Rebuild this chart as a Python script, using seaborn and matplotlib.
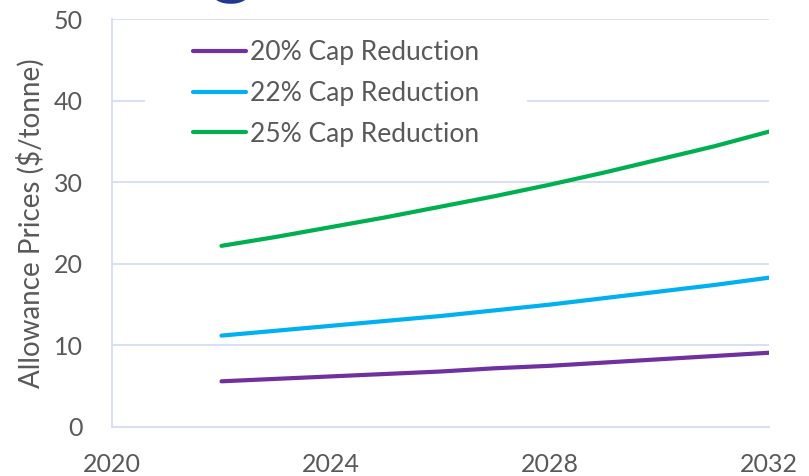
import matplotlib
matplotlib.use("Agg")
import matplotlib.pyplot as plt
import matplotlib.patches as mpatches
import seaborn as sns
import pandas as pd

years = [2022, 2023, 2024, 2025, 2026, 2027, 2028, 2029, 2030, 2031, 2032]
cap20 = [5.6, 5.9, 6.2, 6.5, 6.8, 7.2, 7.5, 7.9, 8.3, 8.7, 9.1]
cap22 = [11.2, 11.8, 12.4, 13.0, 13.6, 14.3, 15.0, 15.8, 16.6, 17.4, 18.3]
cap25 = [22.2, 23.3, 24.5, 25.7, 27.0, 28.3, 29.7, 31.2, 32.8, 34.4, 36.2]
series_names = ["20% Cap Reduction", "22% Cap Reduction", "25% Cap Reduction"]
colors = ["#7030A0", "#00B0F0", "#00B050"]
x_ticks = [2020, 2024, 2028, 2032]
y_ticks = [0, 10, 20, 30, 40, 50]
y_label = "Allowance Prices ($/tonne)"

df = pd.DataFrame({
    "Year": years * 3,
    "Price": cap20 + cap22 + cap25,
    "Scenario": [series_names[0]] * len(years) + [series_names[1]] * len(years) + [series_names[2]] * len(years),
})

sns.set_style("white")
plt.rcParams["font.family"] = ["Lato", "DejaVu Sans"]

grid_c = "#D6DCF4"
text_c = "#595959"

fig = plt.figure(figsize=(8.09, 4.76), dpi=100)
ax = fig.add_axes([112 / 809, 49 / 476, 657 / 809, 408 / 476])

sns.lineplot(data=df, x="Year", y="Price", hue="Scenario", palette=colors,
             hue_order=series_names, linewidth=3.0, ax=ax, legend=True)
for ln in ax.lines:
    ln.set_solid_capstyle("round")

ax.set_xlim(2020, 2032)
ax.set_ylim(0, 50)
ax.set_xticks(x_ticks)
ax.set_yticks(y_ticks)
ax.set_xticklabels([str(t) for t in x_ticks])
ax.set_yticklabels([str(t) for t in y_ticks])
ax.grid(axis="y", color=grid_c, linewidth=1.3)
ax.grid(axis="x", visible=False)
ax.set_axisbelow(True)
for s in ["top", "right"]:
    ax.spines[s].set_visible(False)
for s in ["left", "bottom"]:
    ax.spines[s].set_color(grid_c)
    ax.spines[s].set_linewidth(1.3)
ax.tick_params(axis="both", length=0, labelsize=18, labelcolor=text_c)
ax.tick_params(axis="x", pad=19)
ax.tick_params(axis="y", pad=21)
ax.set_xlabel("")
ax.set_ylabel(y_label, fontsize=20, color=text_c)
ax.yaxis.set_label_coords(-0.103, 0.5)

# white backing for legend (covers gridline)
rect = mpatches.Rectangle((33 / 657, 267 / 408), 382 / 657, 130 / 408,
                          transform=ax.transAxes, facecolor="white",
                          edgecolor="none", zorder=2.5)
ax.add_patch(rect)

leg = ax.legend(loc="upper left", bbox_to_anchor=(81 / 657, 387 / 408),
                frameon=False, fontsize=19, labelcolor=text_c,
                handlelength=2.0, handletextpad=0.15, labelspacing=0.6,
                borderpad=0, borderaxespad=0)
leg.set_zorder(3)
for h in leg.get_lines():
    h.set_linewidth(3.0)

fig.text(232 / 809, 1 + 12 / 476, "g", fontsize=60, fontweight="bold",
         color="#22398F", ha="center", va="baseline")

fig.savefig("out.png", dpi=100)
